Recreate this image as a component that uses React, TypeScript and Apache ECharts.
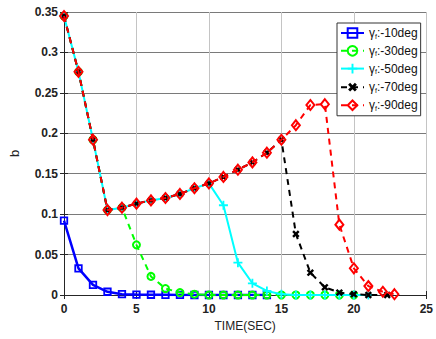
import React, { useEffect, useRef } from "react";
import * as echarts from "echarts";

// ---- data ----
const xTicks = [0, 5, 10, 15, 20, 25];
const yTicks = [0, 0.05, 0.1, 0.15, 0.2, 0.25, 0.3, 0.35];

const blueT = [0, 1, 2, 3, 4, 5, 6, 7, 8, 9, 10, 11, 12, 13, 14];
const blueV = [0.092, 0.033, 0.0125, 0.004, 0.001, 0.0005, 0.0003, 0.0002, 0.0001, 0, 0, 0, 0, 0, 0];

const greenT = [0, 1, 2, 3, 4, 5, 6, 7, 8, 9, 10, 11, 12, 13, 14, 15, 16, 17, 18, 19, 20];
const greenV = [0.345, 0.276, 0.192, 0.105, 0.108, 0.062, 0.023, 0.008, 0.003, 0.001, 0, 0, 0, 0, 0, 0, 0, 0, 0, 0, 0];

const cyanT = [0, 1, 2, 3, 4, 5, 6, 7, 8, 9, 10, 11, 12, 13, 14, 15, 16, 17, 18, 19, 20, 21];
const cyanV = [0.345, 0.276, 0.192, 0.105, 0.108, 0.113, 0.117, 0.12, 0.125, 0.132, 0.138, 0.111, 0.04, 0.0145, 0.005, 0.001, 0, 0, 0, 0, 0, 0];

const blackT = [0, 1, 2, 3, 4, 5, 6, 7, 8, 9, 10, 11, 12, 13, 14, 15, 16, 17, 18, 19, 20, 21, 22.3];
const blackV = [0.345, 0.276, 0.192, 0.105, 0.108, 0.113, 0.117, 0.12, 0.125, 0.132, 0.138, 0.146, 0.155, 0.164, 0.176, 0.192, 0.0755, 0.0276, 0.0095, 0.003, 0.001, 0, 0];

const redT = [0, 1, 2, 3, 4, 5, 6, 7, 8, 9, 10, 11, 12, 13, 14, 15, 16, 17, 18, 19, 20, 21, 22, 22.8];
const redV = [0.345, 0.276, 0.192, 0.105, 0.108, 0.113, 0.117, 0.12, 0.125, 0.132, 0.138, 0.146, 0.155, 0.164, 0.176, 0.192, 0.21, 0.235, 0.236, 0.087, 0.033, 0.011, 0.004, 0.001];

const seriesNames = ["-10deg", "-30deg", "-50deg", "-70deg", "-90deg"];

const pair = (t: number[], v: number[]) => t.map((x, i) => [x, v[i]]);

const PLUS = "path://M4,0 L6,0 L6,4 L10,4 L10,6 L6,6 L6,10 L4,10 L4,6 L0,6 L0,4 L4,4 Z";
const CROSS = "path://M3.5,0 L6.5,0 L6.5,3.5 L10,3.5 L10,6.5 L6.5,6.5 L6.5,10 L3.5,10 L3.5,6.5 L0,6.5 L0,3.5 L3.5,3.5 Z";

export default function App() {
  const ref = useRef<HTMLDivElement>(null);
  useEffect(() => {
    if (!ref.current) return;
    const chart = echarts.init(ref.current, undefined, { renderer: "svg" });
    const FF = "Liberation Sans, Arial, sans-serif";
    const labelFont = { fontFamily: FF, fontWeight: "bold" as const, fontSize: 12, color: "#222" };
    const tickStyle = { show: true, inside: true, length: 4, lineStyle: { color: "#262626" } };
    const axisLine = { show: true, lineStyle: { color: "#262626", width: 1 } };
    chart.setOption({
      animation: false,
      backgroundColor: "#fff",
      grid: { left: 54.5, top: 12, right: 8, bottom: 44 },
      legend: {
        orient: "vertical",
        left: 337,
        top: 23,
        padding: [4, 3, 4, 3],
        itemWidth: 23,
        itemHeight: 12,
        itemGap: 5.3,
        backgroundColor: "#fff",
        borderColor: "#333",
        borderWidth: 1,
        borderRadius: 0,
        data: seriesNames,
        formatter: (name: string) => `{g|γ}{s|f}{t|:${name}}`,
        textStyle: {
          fontFamily: FF,
          fontSize: 12,
          color: "#111",
          rich: {
            g: { fontSize: 12, fontFamily: FF, color: "#111" },
            s: { fontSize: 7, fontFamily: FF, color: "#111", padding: [6, 0, 0, 0] },
            t: { fontSize: 12, fontFamily: FF, color: "#111" },
          },
        },
      },
      xAxis: [
        {
          type: "value",
          min: 0,
          max: 25,
          interval: 5,
          name: "TIME(SEC)",
          nameLocation: "middle",
          nameGap: 25,
          nameTextStyle: { fontFamily: FF, fontSize: 12, color: "#222" },
          axisLine,
          axisTick: tickStyle,
          axisLabel: { ...labelFont, margin: 8, formatter: (v: number) => (xTicks.includes(v) ? String(v) : "") },
          splitLine: { show: true, lineStyle: { color: "#c4c4c4", width: 1 } },
        },
        {
          type: "value",
          position: "top",
          min: 0,
          max: 25,
          interval: 5,
          axisLine,
          axisTick: tickStyle,
          axisLabel: { show: false },
          splitLine: { show: false },
        },
      ],
      yAxis: [
        {
          type: "value",
          min: 0,
          max: 0.35,
          interval: 0.05,
          name: "b",
          nameLocation: "middle",
          nameGap: 43,
          nameRotate: 90,
          nameTextStyle: { fontFamily: FF, fontSize: 13, color: "#222" },
          axisLine,
          axisTick: tickStyle,
          axisLabel: {
            ...labelFont,
            margin: 6,
            formatter: (v: number) => {
              const m = yTicks.find((t) => Math.abs(t - v) < 1e-9);
              return m === undefined ? "" : String(m);
            },
          },
          splitLine: { show: true, lineStyle: { color: "#7a7a7a", width: 1 } },
        },
        {
          type: "value",
          position: "right",
          min: 0,
          max: 0.35,
          interval: 0.05,
          axisLine,
          axisTick: tickStyle,
          axisLabel: { show: false },
          splitLine: { show: false },
        },
      ],
      series: [
        {
          name: seriesNames[0],
          type: "line",
          data: pair(blueT, blueV),
          symbol: "rect",
          symbolSize: 6.5,
          itemStyle: { color: "rgba(255,255,255,0)", borderColor: "#0000ff", borderWidth: 1.8 },
          lineStyle: { color: "#0000ff", width: 2.5, type: "solid" },
          z: 2,
        },
        {
          name: seriesNames[1],
          type: "line",
          data: pair(greenT, greenV),
          symbol: "circle",
          symbolSize: 7,
          itemStyle: { color: "rgba(255,255,255,0)", borderColor: "#00ff00", borderWidth: 2 },
          lineStyle: { color: "#00ff00", width: 2, type: [6, 5] },
          z: 3,
        },
        {
          name: seriesNames[2],
          type: "line",
          data: pair(cyanT, cyanV),
          symbol: PLUS,
          symbolSize: 9,
          itemStyle: { color: "#00ffff", borderWidth: 0 },
          lineStyle: { color: "#00ffff", width: 2, type: "solid" },
          z: 4,
        },
        {
          name: seriesNames[3],
          type: "line",
          data: pair(blackT, blackV),
          symbol: CROSS,
          symbolRotate: 45,
          symbolSize: 8,
          itemStyle: { color: "#000", borderWidth: 0 },
          lineStyle: { color: "#000", width: 2, type: [6, 5] },
          z: 5,
        },
        {
          name: seriesNames[4],
          type: "line",
          data: pair(redT, redV),
          symbol: "diamond",
          symbolSize: [8, 10],
          itemStyle: { color: "rgba(255,255,255,0)", borderColor: "#ff0000", borderWidth: 2 },
          lineStyle: { color: "#ff0000", width: 2, type: [6, 5] },
          z: 6,
        },
      ],
    });
    return () => chart.dispose();
  }, []);
  return <div ref={ref} style={{ position: "fixed", left: 0, top: 0, width: 436, height: 339 }} />;
}
